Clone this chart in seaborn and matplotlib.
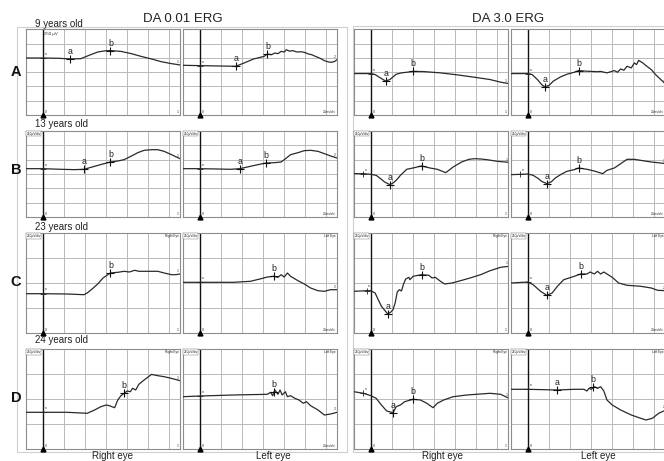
import matplotlib
matplotlib.use("Agg")
import matplotlib.pyplot as plt
from matplotlib.patches import Rectangle
import pandas as pd
import seaborn as sns

rows = ["A", "B", "C", "D"]
ages = ["9 years old", "13 years old", "23 years old", "24 years old"]
protocols = ["DA 0.01 ERG", "DA 3.0 ERG"]
eyes = ["Right eye", "Left eye"]

# traces: time after flash (ms), amplitude (uV)
# 1 = DA 0.01 right, 2 = DA 0.01 left, 3 = DA 3.0 right, 4 = DA 3.0 left
A1_t = [-16, 0, 15, 26, 36, 43, 52, 59, 64, 74, 84, 93, 103, 112, 122, 130]
A1_uv = [0, 0, -5, -17, -12, 41, 105, 126, 130, 116, 76, 29, -17, -64, -99, -122]
A2_t = [-16, 0, 17, 34, 42, 51, 61, 64, 68, 71, 74, 77, 80, 82, 85, 88, 92, 96, 99, 103,
        106, 110, 114, 118, 122, 125, 128, 130]
A2_uv = [-128, -134, -140, -145, -87, -17, 29, 70, 58, 87, 76, 116, 105, 145, 120, 130, 105, 110,
         99, 70, 58, 25, -5, -46, -70, -76, -58, -29]
A3_t = [-16, 0, 4, 9, 14, 18, 21, 24, 29, 34, 40, 50, 66, 82, 98, 113, 123, 130]
A3_uv = [-273, -273, -290, -349, -405, -378, -331, -285, -261, -250, -235, -238, -261, -296,
         -337, -378, -424, -447]
A4_t = [-16, 0, 4, 9, 13, 16, 20, 24, 31, 37, 44, 48, 56, 66, 69, 75, 82, 85, 88, 91, 94, 98,
        101, 103, 105, 109, 112, 117, 121, 126, 131]
A4_uv = [-273, -273, -290, -378, -465, -505, -482, -407, -331, -285, -250, -221, -232, -240, -235,
         -261, -221, -250, -192, -215, -145, -174, -87, -116, -41, -87, -134, -203, -290, -378, -465]

B1_t = [-16, 0, 17, 30, 39, 49, 58, 64, 71, 77, 84, 90, 96, 103, 109, 115, 122, 130]
B1_uv = [-157, -157, -168, -174, -168, -116, -70, -41, -23, 0, 64, 122, 163, 174, 174, 145, 87, 17]
B2_t = [-16, 0, 17, 29, 38, 45, 55, 63, 71, 77, 80, 86, 93, 99, 105, 112, 118, 124, 130]
B2_uv = [-157, -157, -163, -168, -157, -128, -87, -58, -52, -41, 0, 87, 122, 157, 163, 145, 105, 64, 29]
B3_t = [-16, -7, 0, 5, 10, 13, 18, 21, 24, 28, 34, 40, 48, 56, 63, 71, 78, 86, 93, 98, 104,
        110, 120, 131]
B3_uv = [-244, -244, -256, -273, -343, -389, -436, -407, -360, -273, -168, -145, -110, -145, -168,
         -227, -128, -41, 6, 17, 12, 0, -29, -46]
B4_t = [-16, -7, 0, 5, 10, 13, 18, 22, 26, 31, 37, 44, 48, 56, 63, 71, 75, 82, 88, 94, 101,
        107, 117, 126, 131]
B4_uv = [-261, -256, -250, -273, -331, -378, -418, -389, -320, -261, -203, -174, -145, -168, -198,
         -244, -186, -145, -70, 6, 6, -12, -41, -58, -70]

C1_t = [-16, 0, 23, 39, 42, 47, 52, 57, 64, 71, 77, 82, 87, 91, 99, 109, 115, 122, 126, 130]
C1_uv = [-107, -107, -110, -117, -100, -57, -10, 50, 100, 107, 117, 110, 127, 117, 117, 117, 100,
         83, 83, 90]
C2_t = [-16, 0, 32, 48, 58, 64, 70, 74, 77, 80, 83, 86, 93, 99, 105, 112, 118, 124, 130]
C2_uv = [7, 7, 7, 17, 43, 60, 67, 57, 83, 60, 100, 67, 23, -10, -50, -77, -83, -67, -67]
C3_t = [-16, -4, 0, 4, 7, 10, 16, 19, 21, 23, 25, 27, 29, 31, 33, 36, 37, 40, 48, 55, 58, 61,
        66, 70, 77, 85, 94, 104, 113, 123, 131]
C3_uv = [-83, -77, -77, -100, -167, -233, -310, -290, -266, -200, -90, -67, -80, -10, 40, 57, 33,
         67, 83, 77, 50, 57, 17, -10, 0, 23, 50, 83, 123, 157, 167]
C4_t = [-16, 0, 5, 12, 18, 23, 28, 34, 44, 50, 56, 59, 63, 66, 69, 72, 75, 80, 86, 94, 107,
        117, 123, 131]
C4_uv = [0, 10, -17, -83, -123, -100, -33, 33, 67, 90, 90, 110, 90, 117, 90, 110, 90, 57, 0, -23,
         -33, -50, -73, -77]

D1_t = [-16, 0, 23, 42, 49, 55, 60, 63, 68, 71, 74, 77, 80, 83, 85, 88, 91, 96, 103, 109, 115,
        122, 130]
D1_uv = [-133, -133, -133, -143, -110, -77, -60, -67, -87, -10, 33, 57, 80, 73, 107, 90, 147, 190,
         246, 233, 223, 206, 183]
D2_t = [-16, 0, 32, 64, 67, 69, 71, 74, 76, 78, 81, 83, 86, 90, 94, 98, 101, 105, 112, 118, 124, 130]
D2_uv = [23, 30, 40, 47, 67, 33, 90, 47, 90, 40, 73, 23, 33, 7, -10, -43, -27, -67, -110, -160,
         -150, -133]
D3_t = [-16, -7, 0, 5, 10, 15, 21, 24, 28, 32, 40, 47, 53, 59, 63, 69, 78, 91, 104, 113, 123, 131]
D3_uv = [73, 57, 33, 7, -60, -120, -137, -77, -60, -27, -3, -10, -43, -87, -43, -10, 23, 40, 50,
         57, 47, 7]
D4_t = [-16, 0, 28, 44, 53, 56, 58, 60, 63, 66, 69, 72, 75, 80, 88, 98, 107, 112, 118, 124, 131]
D4_uv = [97, 97, 90, 97, 97, 80, 107, 97, 123, 107, 123, 80, -10, -60, -110, -160, -193, -210,
         -193, -143, -110]

# a- and b-wave picks (ms, uV); None where not marked
a_picks = {"A1": (26, -17), "A2": (34, -145), "A3": (14, -405), "A4": (16, -505),
           "B1": (39, -168), "B2": (38, -157), "B3": (18, -436), "B4": (18, -418),
           "C1": None, "C2": None, "C3": (16, -310), "C4": (18, -123),
           "D1": None, "D2": None, "D3": (21, -137), "D4": (28, 90)}
b_picks = {"A1": (64, 130), "A2": (64, 70), "A3": (40, -235), "A4": (48, -221),
           "B1": (64, -41), "B2": (63, -58), "B3": (48, -110), "B4": (48, -145),
           "C1": (64, 100), "C2": (70, 67), "C3": (48, 83), "C4": (50, 90),
           "D1": (77, 57), "D2": (70, 73), "D3": (40, -3), "D4": (62, 123)}

traces = {
    "A1": (A1_t, A1_uv), "A2": (A2_t, A2_uv), "A3": (A3_t, A3_uv), "A4": (A4_t, A4_uv),
    "B1": (B1_t, B1_uv), "B2": (B2_t, B2_uv), "B3": (B3_t, B3_uv), "B4": (B4_t, B4_uv),
    "C1": (C1_t, C1_uv), "C2": (C2_t, C2_uv), "C3": (C3_t, C3_uv), "C4": (C4_t, C4_uv),
    "D1": (D1_t, D1_uv), "D2": (D2_t, D2_uv), "D3": (D3_t, D3_uv), "D4": (D4_t, D4_uv),
}

sns.set_theme(style="white")
plt.rcParams["font.family"] = ["Liberation Sans", "DejaVu Sans"]

W, H = 664, 461
fig = plt.figure(figsize=(W / 100, H / 100), dpi=100)

# background axes in pixel coordinates for frames and labels
bg = fig.add_axes([0, 0, 1, 1])
bg.set_xlim(0, W)
bg.set_ylim(H, 0)
bg.axis("off")

box_col = "#cfcfcf"
bg.add_patch(Rectangle((16.7, 26.7), 330, 425, fill=False, ec=box_col, lw=0.8))
bg.add_patch(Rectangle((353.3, 26), 330, 425.7, fill=False, ec=box_col, lw=0.8))

col_x = [26, 183, 354, 511]
col_w = 154
row_top = [29.5, 131, 233, 349]
row_bot = [115, 217, 333, 449]
row_ylim = [(-1000, 500), (-1000, 500), (-500, 500), (-500, 500)]

grid_col = "#b9b9b9"
trace_col = "#2a2a2a"

for r, row in enumerate(rows):
    lo, hi = row_ylim[r]
    for c in range(4):
        key = f"{row}{c + 1}"
        x0 = col_x[c]
        ax = fig.add_axes([x0 / W, 1 - row_bot[r] / H, col_w / W,
                           (row_bot[r] - row_top[r]) / H])
        ax.set_xlim(-16, 130)
        ax.set_ylim(lo, hi)
        for gx in range(20, 130, 20):
            ax.axvline(gx, color=grid_col, lw=0.7, zorder=1)
        for gy in range(lo + 250, hi, 250):
            ax.axhline(gy, color=grid_col, lw=0.7, zorder=1)
        ax.axvline(0, color="#111111", lw=1.0, zorder=2)
        ax.plot([0], [lo], marker="^", color="black", ms=3.5, clip_on=False, zorder=5)
        ax.text(2, lo + (hi - lo) * 0.015, "0", fontsize=2.5, va="bottom", color="#333")

        t, uv = traces[key]
        df = pd.DataFrame({"t": t, "uv": uv})
        sns.lineplot(data=df, x="t", y="uv", ax=ax, color=trace_col, lw=0.9,
                     estimator=None, sort=False, zorder=3)
        # stimulus point on the trace
        ax.plot([t[1]], [uv[1]], marker="+", color="#222", ms=4, mew=0.6, zorder=4)
        ax.text(t[1] + 1.5, uv[1] + (hi - lo) * 0.035, "n", fontsize=2.5, color="#333")
        ax.text(t[-1] - 1, uv[-1] + (hi - lo) * 0.02, str(1 if c % 2 == 0 else 2),
                fontsize=2.5, ha="right", color="#333")

        for lab, picks in (("a", a_picks), ("b", b_picks)):
            p = picks[key]
            if p is None:
                continue
            ax.plot([p[0]], [p[1]], marker="+", color="#111", ms=6, mew=0.8, zorder=4)
            ax.annotate(lab, p, xytext=(0, 2.2), textcoords="offset points",
                        ha="center", va="bottom", fontsize=6.3, color="#222")

        # small instrument labels
        if r == 0 and c == 0:
            ax.text(1.5, hi - (hi - lo) * 0.03, "250 µV", fontsize=3.2, va="top", color="#333")
        elif r > 0:
            ax.text(-15.5, hi - (hi - lo) * 0.01, "250µV/div", fontsize=2.3, va="top",
                    color="#222", bbox=dict(fc="white", ec="#666", lw=0.3, pad=0.4))
        if r >= 2:
            ax.text(129, hi - (hi - lo) * 0.01, "Right Eye" if c % 2 == 0 else "Left Eye",
                    fontsize=2.3, va="top", ha="right", color="#222")
        if key == "D4":
            pass
        elif c % 2 == 1:
            ax.text(129, lo + (hi - lo) * 0.01, "20ms/div", fontsize=2.3, va="bottom",
                    ha="right", color="#222")
        else:
            ax.text(129, lo + (hi - lo) * 0.01, "1", fontsize=2.3, va="bottom",
                    ha="right", color="#222")

        ax.set_xlabel("")
        ax.set_ylabel("")
        ax.set_xticks([])
        ax.set_yticks([])
        for s in ax.spines.values():
            s.set_color("#8c8c8c")
            s.set_linewidth(0.8)

# titles and labels
bg.text(183, 18.5, protocols[0], fontsize=9.5, ha="center", va="center", color="#222")
bg.text(508, 18.5, protocols[1], fontsize=9.5, ha="center", va="center", color="#222")
age_y = [24, 123.7, 227, 340]
for r, row in enumerate(rows):
    bg.text(35, age_y[r], ages[r], fontsize=7, ha="left", va="center", color="#222")
row_y = [72.5, 170, 282, 397.5]
for r, row in enumerate(rows):
    bg.text(16, row_y[r], row, fontsize=10.5, fontweight="bold", ha="center", va="center",
            color="#111")
eye_x = [113, 273, 442, 598]
for i, x in enumerate(eye_x):
    bg.text(x, 460.5, eyes[i % 2], fontsize=7, ha="center", va="bottom", color="#222")
bg.text(642, 446, "20 ms", fontsize=5, ha="center", va="center", color="#333", zorder=10)

fig.savefig("out.png", dpi=100)
